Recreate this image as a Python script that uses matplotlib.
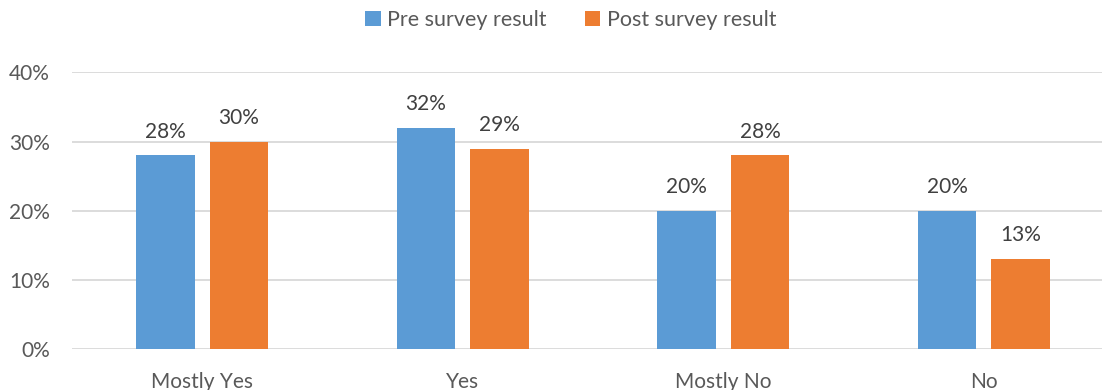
import matplotlib
matplotlib.use('Agg')
import matplotlib.pyplot as plt
import numpy as np

categories = ['Mostly Yes', 'Yes', 'Mostly No', 'No']
pre_survey = [28, 32, 20, 20]
post_survey = [30, 29, 28, 13]
y_ticks = [0, 10, 20, 30, 40]

plt.rcParams['font.family'] = ['Lato', 'DejaVu Sans']
text_color = '#404040'
tick_color = '#595959'

fig = plt.figure(figsize=(11.02, 3.9), dpi=100)
ax = fig.add_axes([0.0653, 0.1044, 0.9456, 0.710])

x = np.arange(len(categories))
w = 0.223
off = 0.141
bars_pre = ax.bar(x - off, pre_survey, w, color='#5B9BD5', label='Pre survey result', zorder=3)
bars_post = ax.bar(x + off, post_survey, w, color='#ED7D31', label='Post survey result', zorder=3)

for bars in (bars_pre, bars_post):
    for b in bars:
        h = b.get_height()
        ax.annotate(f'{h:.0f}%', (b.get_x() + b.get_width() / 2, h),
                    xytext=(0, 10), textcoords='offset points',
                    ha='center', va='bottom', fontsize=15, color=text_color)

ax.set_xlim(-0.5, len(categories) - 0.5)
ax.set_ylim(0, 40)
ax.set_yticks(y_ticks)
ax.set_yticklabels([f'{t}%' for t in y_ticks])
ax.set_xticks(x)
ax.set_xticklabels(categories)
ax.tick_params(axis='both', length=0, labelsize=15, labelcolor=tick_color)
ax.tick_params(axis='y', pad=16)
ax.tick_params(axis='x', pad=16)
ax.grid(axis='y', color='#D9D9D9', linewidth=1.3, zorder=0)
for s in ax.spines.values():
    s.set_visible(False)

fig.legend(loc='center', bbox_to_anchor=(0.518, 0.948), ncol=2, frameon=False,
           fontsize=15.5, labelcolor=tick_color, handlelength=0.7, handleheight=0.7,
           handletextpad=0.3, columnspacing=1.8)

fig.savefig('out.png', dpi=100)
